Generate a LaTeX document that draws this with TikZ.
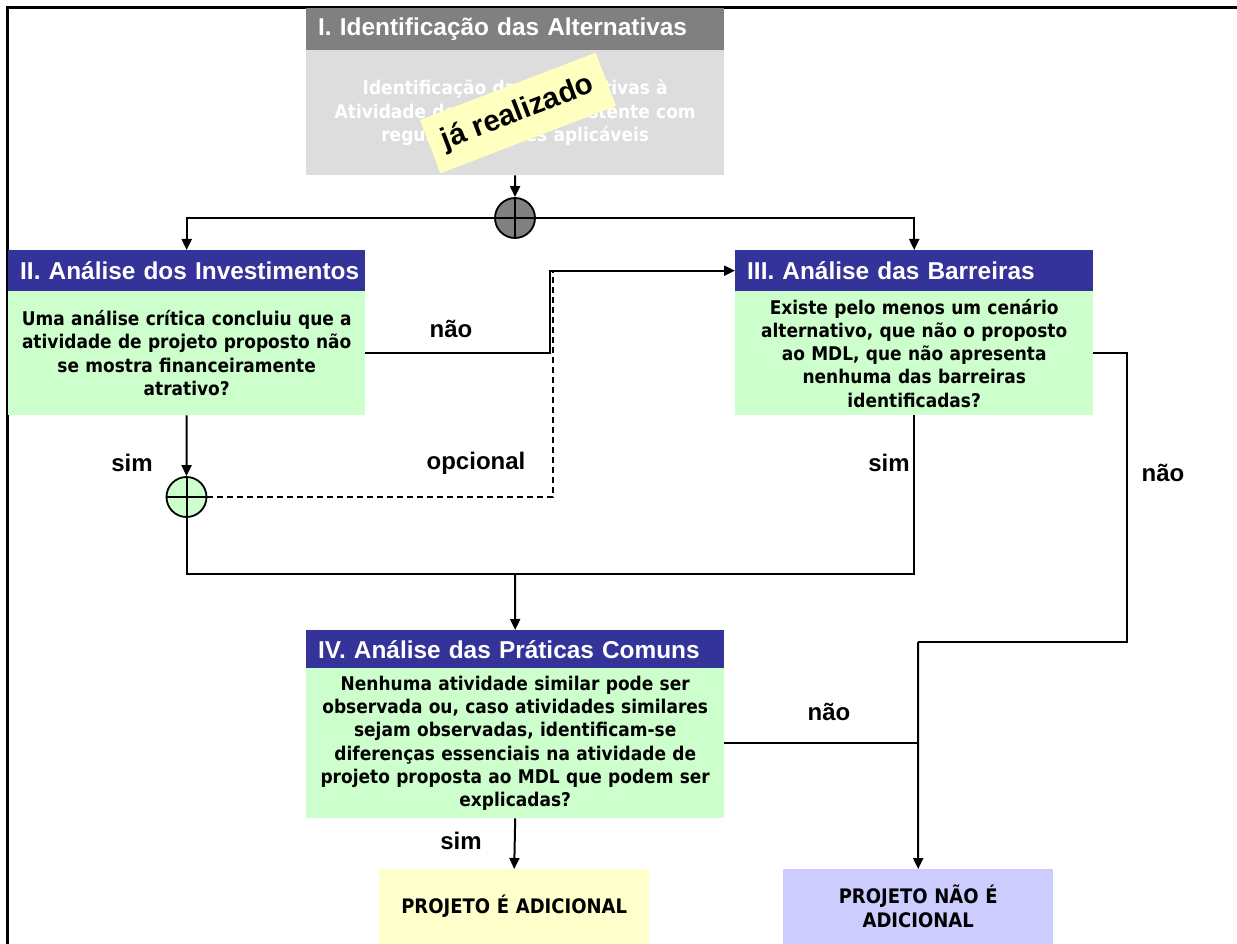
\documentclass[tikz,border=0pt]{standalone}
\usepackage{fontspec}
\setmainfont{DejaVu Sans}
\newfontfamily\bodyfont[FakeStretch=0.9]{DejaVu Sans}
\newfontfamily\arialfont{Liberation Sans}
\usetikzlibrary{arrows.meta}
\definecolor{hdrblue}{HTML}{333399}
\definecolor{boxgreen}{HTML}{CCFFCC}
\definecolor{hdrgray}{HTML}{808080}
\definecolor{bodygray}{HTML}{DDDDDD}
\definecolor{resyellow}{HTML}{FFFFCC}
\definecolor{reslav}{HTML}{CCCCFF}
\definecolor{sticky}{HTML}{FFFFC0}
\tikzset{
  hdr/.style={fill=hdrblue, text=white, anchor=north west, inner xsep=12pt, inner ysep=0pt,
    minimum height=#1, align=left, font=\arialfont\bfseries\fontsize{24.4}{28}\selectfont},
  bodybox/.style={fill=boxgreen, anchor=north west, inner xsep=4pt, inner ysep=0pt,
    minimum height=#1, align=center, font=\bodyfont\bfseries\fontsize{18.9}{23.3}\selectfont},
  resbox/.style={anchor=north west, inner xsep=6pt, inner ysep=0pt, minimum height=75pt,
    align=center, text width=258pt, font=\bodyfont\bfseries\fontsize{20}{24}\selectfont},
  lbl/.style={font=\arialfont\bfseries\fontsize{24}{27}\selectfont, inner sep=0pt},
  conn/.style={line width=2pt},
  arr/.style={conn, -{Triangle[length=11pt,width=10pt]}},
  junc/.style={circle, draw, line width=1.8pt, minimum size=40pt, inner sep=0pt},
}
\begin{document}
\begin{tikzpicture}[x=1pt,y=-1pt]
\useasboundingbox (0,0) rectangle (1237,944);
% frame
\draw[line width=3pt] (7,944) -- (7,8) -- (1237,8);

% Box I
\node[hdr=42pt, fill=hdrgray, text width=394pt] (h1) at (306,8) {\mbox{I. Identificação das Alternativas}};
\node[bodybox=125pt, fill=bodygray, text=white, text width=410pt] (b1) at (306,50)
  {Identificação das Alternativas à\\Atividade de Projeto consistente com\\regulamentações aplicáveis};
\node[fill=sticky, rotate=21, minimum width=188pt, minimum height=57pt, inner sep=0pt,
  font=\arialfont\bfseries\fontsize{29.5}{32}\selectfont] (st) at (518,113) {já realizado};

% Box II
\node[hdr=41pt, text width=333pt] (h2) at (8,250) {\mbox{II. Análise dos Investimentos}};
\node[bodybox=124pt, text width=349pt] (b2) at (8,291)
  {Uma análise crítica concluiu que a\\atividade de projeto proposto não\\se mostra financeiramente\\atrativo?};

% Box III
\node[hdr=41pt, text width=334pt] (h3) at (735,250) {\mbox{III. Análise das Barreiras}};
\node[bodybox=124pt, text width=350pt] (b3) at (735,291)
  {Existe pelo menos um cenário\\alternativo, que não o proposto\\ao MDL, que não apresenta\\nenhuma das barreiras\\identificadas?};

% Box IV
\node[hdr=38pt, text width=394pt] (h4) at (306,630) {\mbox{IV. Análise das Práticas Comuns}};
\node[bodybox=150pt, text width=410pt] (b4) at (306,668)
  {Nenhuma atividade similar pode ser\\observada ou, caso atividades similares\\sejam observadas, identificam-se\\diferenças essenciais na atividade de\\projeto proposta ao MDL que podem ser\\explicadas?};

% results
\node[resbox, fill=resyellow] (ry) at (379,869) {PROJETO É ADICIONAL};
\node[resbox, fill=reslav] (rn) at (783,869) {PROJETO NÃO É\\ADICIONAL};

% junctions
\node[junc, fill=hdrgray] (c1) at (515,218) {};
\node[junc, fill=boxgreen] (c2) at (186.5,497) {};

% connectors
\draw[arr] (b1.south) -- (c1.north);
\draw[arr] (c1.west) -| (h2.north);
\draw[arr] (c1.east) -| (h3.north);
\draw[conn] (c1.north) -- (c1.south);
\draw[conn] (c1.west) -- (c1.east);

\coordinate (dj) at (553,272);
\draw[arr] (b2.east) -- ++(185,0) |- (h3.west);
\draw[conn, dashed, dash pattern=on 6pt off 4pt] (c2.east) -| (dj);

\draw[arr] (b2.south) -- (c2.north);
\draw[conn] (c2.north) -- (c2.south);
\draw[conn] (c2.west) -- (c2.east);

\coordinate (m) at (515,574);
\draw[conn] (c2.south) |- (m);
\draw[conn] (b3.south) |- (m);
\draw[arr] (m) -- (h4.north);

\coordinate (k) at (918,642);
\draw[conn] (b3.east) -- ++(34,0) |- (k);
\draw[arr] (k) -- (rn.north);
\draw[conn] (b4.east) -- (b4.east -| k);

\draw[arr] (b4.south) -- (ry.north);

% labels
\node[lbl] (l1) at (451,329) {não};
\node[lbl] (l2) at (132,463) {sim};
\node[lbl] (l3) at (476,463) {opcional};
\node[lbl] (l4) at (889,463) {sim};
\node[lbl] (l5) at (1163,473) {não};
\node[lbl] (l6) at (829,712) {não};
\node[lbl] (l7) at (461,841) {sim};
\end{tikzpicture}
\end{document}
